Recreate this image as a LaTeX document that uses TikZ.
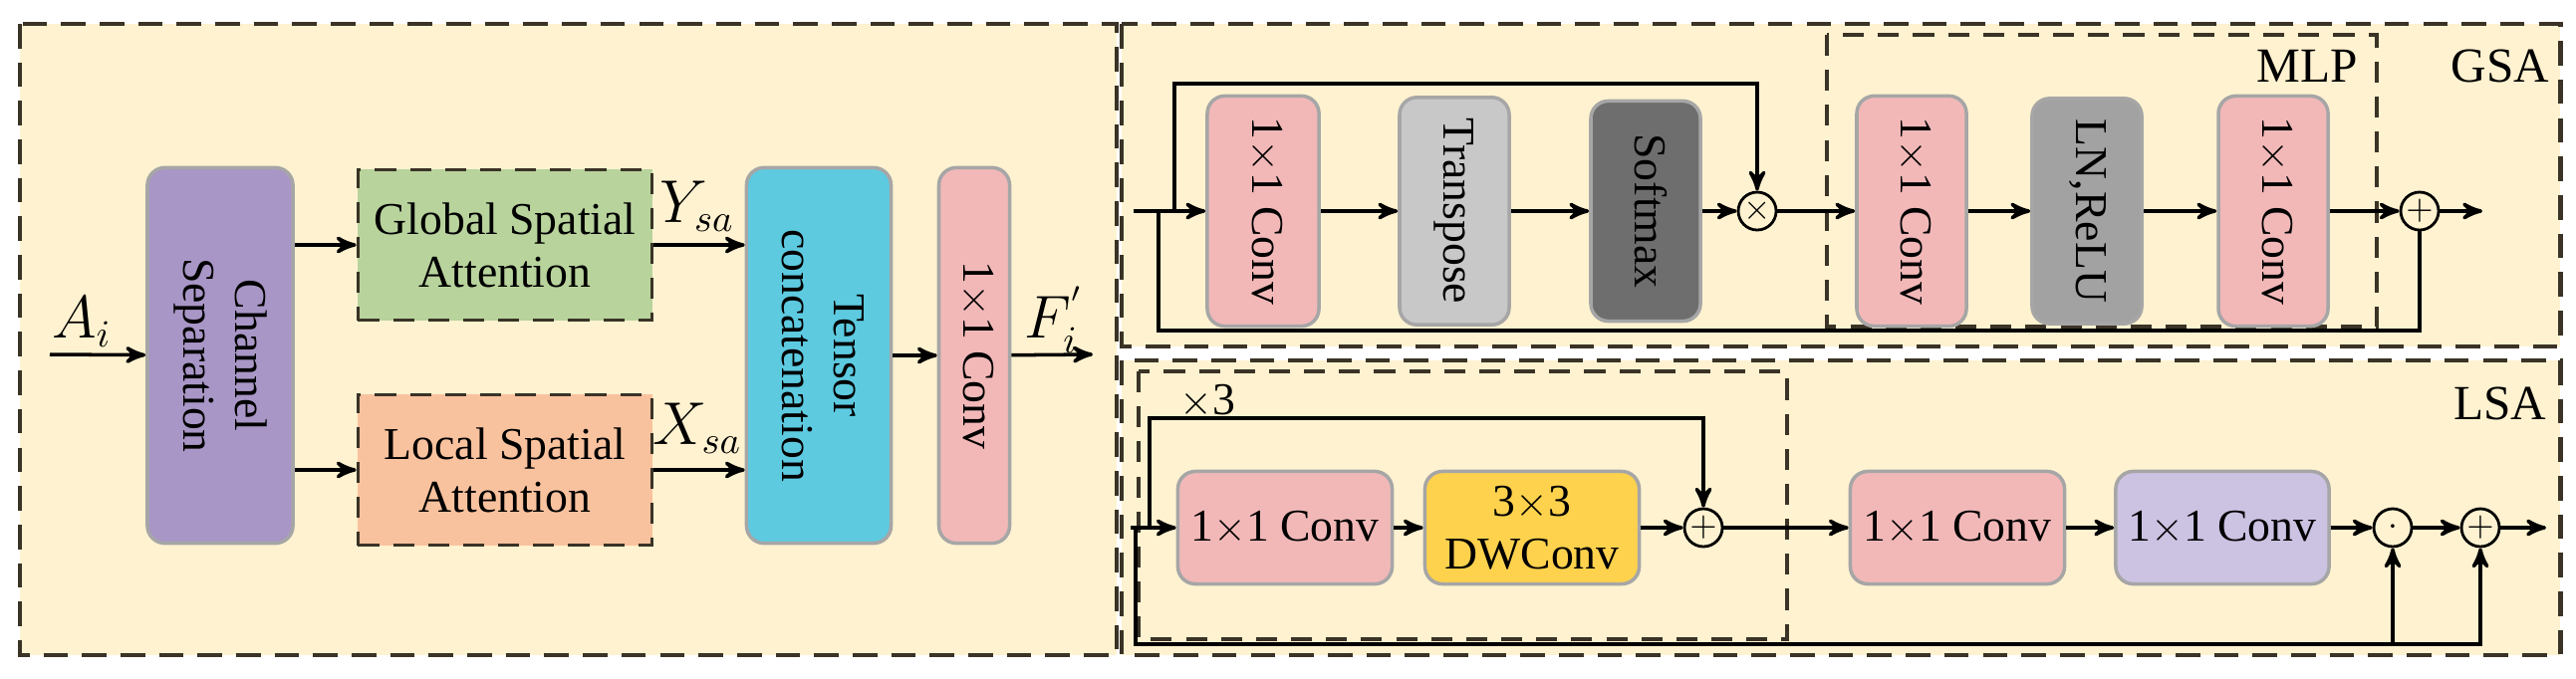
\documentclass[tikz,border=0pt]{standalone}
\usepackage{fontspec}
\setmainfont{Liberation Serif}
\usepackage{amsmath}
\usetikzlibrary{arrows}
\definecolor{bgyellow}{HTML}{FFF2D0}
\definecolor{linecol}{HTML}{3A3326}
\definecolor{convpink}{HTML}{F2B8B8}
\definecolor{sepviolet}{HTML}{A896C6}
\definecolor{glbgreen}{HTML}{B8D39C}
\definecolor{locorange}{HTML}{F9C29E}
\definecolor{catcyan}{HTML}{5DCAE0}
\definecolor{trgray}{HTML}{C8C8C8}
\definecolor{smgray}{HTML}{6E6E6E}
\definecolor{lngray}{HTML}{A2A2A2}
\definecolor{dwyellow}{HTML}{FFD24D}
\definecolor{lilac}{HTML}{CCC2E2}
\tikzset{block/.style={rectangle,rounded corners=5pt,draw=black!35,inner sep=0pt,align=center,font=\fontsize{13}{15}\selectfont},
	panel/.style={draw=linecol,dashed,line width=1.4pt,dash pattern=on 7pt off 4pt},
	inner panel/.style={draw=linecol,dashed,line width=1pt,dash pattern=on 6pt off 4pt},
	op/.style={circle,draw=black,fill=bgyellow,minimum size=0.38cm,inner sep=0pt,line width=0.8pt},
}
\newcommand{\vtext}[1]{\rotatebox{-90}{\begin{tabular}{c}#1\end{tabular}}}

\begin{document}
\begin{tikzpicture}[x=0.01cm,y=-0.01cm,->,>=stealth',line width=1pt,
	every label/.style={font=\large}]
	\useasboundingbox (0,0) rectangle (2586,681);
	
	% panels
	\fill[bgyellow] (20,24) rectangle (1121,658);
	\fill[bgyellow] (1126,24) rectangle (2570,348);
	\fill[bgyellow] (1126,362) rectangle (2570,658);
	\draw[panel,-] (20,24) rectangle (1121,658);
	\draw[panel,-] (1126,24) rectangle (2570,348);
	\draw[panel,-] (1126,362) rectangle (2570,658);
	\draw[inner panel,-] (1834,35) rectangle (2386,328);
	\draw[inner panel,-] (1143,373) rectangle (1794,642);
	
	% left part
	\coordinate (in) at (50,356);
	\coordinate (out) at (1097,356);
	\node[block,fill=sepviolet,minimum width=1.46cm,minimum height=3.77cm] (sep) at (221,357) {\vtext{Channel\\Separation}};
	\node[block,fill=glbgreen,rounded corners=0pt,inner panel,minimum width=2.95cm,minimum height=1.51cm] (gsa) at (507,246) {Global Spatial\\Attention};
	\node[block,fill=locorange,rounded corners=0pt,inner panel,minimum width=2.95cm,minimum height=1.51cm] (lsa) at (507,472) {Local Spatial\\Attention};
	\node[block,fill=catcyan,minimum width=1.45cm,minimum height=3.77cm] (cat) at (822,357) {\vtext{Tensor\\concatenation}};
	\node[block,fill=convpink,minimum width=0.71cm,minimum height=3.77cm] (conv) at (978,357) {\vtext{1$\times$1 Conv}};
	
	\node[font=\fontsize{16}{18}\selectfont] (ai) at (82,323) {$A_i$};
	\node[font=\fontsize{16}{18}\selectfont] (ysa) at (700,207) {$Y_{sa}$};
	\node[font=\fontsize{16}{18}\selectfont] (xsa) at (700,430) {$X_{sa}$};
	\node[font=\fontsize{16}{18}\selectfont] (fi) at (1058,321) {$F_i^{'}$};
	
	\draw (in) -- (sep);
	\draw (sep.east |- gsa) -- (gsa);
	\draw (sep.east |- lsa) -- (lsa);
	\draw (gsa) -- (cat.west |- gsa);
	\draw (lsa) -- (cat.west |- lsa);
	\draw (cat) -- (conv);
	\draw (conv) -- (out);
	
	% GSA
	\node[block,fill=convpink,minimum width=1.12cm,minimum height=2.21cm] (g1) at (1268,212) {\vtext{1$\times$1 Conv}};
	\node[block,fill=trgray,minimum width=1.1cm,minimum height=2.21cm] (g2) at (1460,212) {\vtext{Transpose}};
	\node[block,fill=smgray,minimum width=1.1cm,minimum height=2.21cm] (g3) at (1652,212) {\vtext{Softmax}};
	\node[op] (mul) at (1764,212) {$\times$};
	\node[block,fill=convpink,minimum width=1.1cm,minimum height=2.21cm] (g4) at (1919,212) {\vtext{1$\times$1 Conv}};
	\node[block,fill=lngray,minimum width=1.1cm,minimum height=2.21cm] (g5) at (2095,212) {\vtext{LN,ReLU}};
	\node[block,fill=convpink,minimum width=1.1cm,minimum height=2.21cm] (g6) at (2282,212) {\vtext{1$\times$1 Conv}};
	\node[op] (gadd) at (2429,212) {$+$};
	\coordinate (gin) at (1138,212);
	\coordinate (gout) at (2492,212);
	\node[font=\fontsize{14}{16}\selectfont,anchor=east] (mlp) at (2380,66) {MLP};
	\node[font=\fontsize{14}{16}\selectfont] (gsalbl) at (2510,66) {GSA};
	
	\draw (gin) -- (g1);
	\draw (g1) -- (g2);
	\draw (g2) -- (g3);
	\draw (g3) -- (mul);
	\draw (mul) -- (g4);
	\draw (g4) -- (g5);
	\draw (g5) -- (g6);
	\draw (g6) -- (gadd);
	\draw (gadd) -- (gout);
	\draw (1179,212) |- (1764,84) -- (mul);
	\draw[-] (1163,212) |- (2429,332) -- (gadd);
	
	% LSA
	\node[block,fill=convpink,minimum width=2.15cm,minimum height=1.13cm] (l1) at (1290,530) {1$\times$1 Conv};
	\node[block,fill=dwyellow,minimum width=2.15cm,minimum height=1.13cm] (l2) at (1538,530) {3$\times$3\\DWConv};
	\node[op] (ladd) at (1710,530) {$+$};
	\node[block,fill=convpink,minimum width=2.15cm,minimum height=1.13cm] (l3) at (1965,530) {1$\times$1 Conv};
	\node[block,fill=lilac,minimum width=2.14cm,minimum height=1.13cm] (l4) at (2231,530) {1$\times$1 Conv};
	\node[op] (dot) at (2402,530) {$\cdot$};
	\node[op] (ladd2) at (2490,530) {$+$};
	\coordinate (lin) at (1135,530);
	\coordinate (lout) at (2556,530);
	\node[font=\fontsize{13}{15}\selectfont] (rep) at (1212,403) {$\times$3};
	\node[font=\fontsize{14}{16}\selectfont] (lsalbl) at (2510,405) {LSA};
	
	\draw (lin) -- (l1);
	\draw (l1) -- (l2);
	\draw (l2) -- (ladd);
	\draw (ladd) -- (l3);
	\draw (l3) -- (l4);
	\draw (l4) -- (dot);
	\draw (dot) -- (ladd2);
	\draw (ladd2) -- (lout);
	\draw (1154,530) |- (1710,420) -- (ladd);
	\draw (1140,530) |- (2490,647) -- (ladd2);
	\draw (2402,647) -- (dot);
\end{tikzpicture}
\end{document}
